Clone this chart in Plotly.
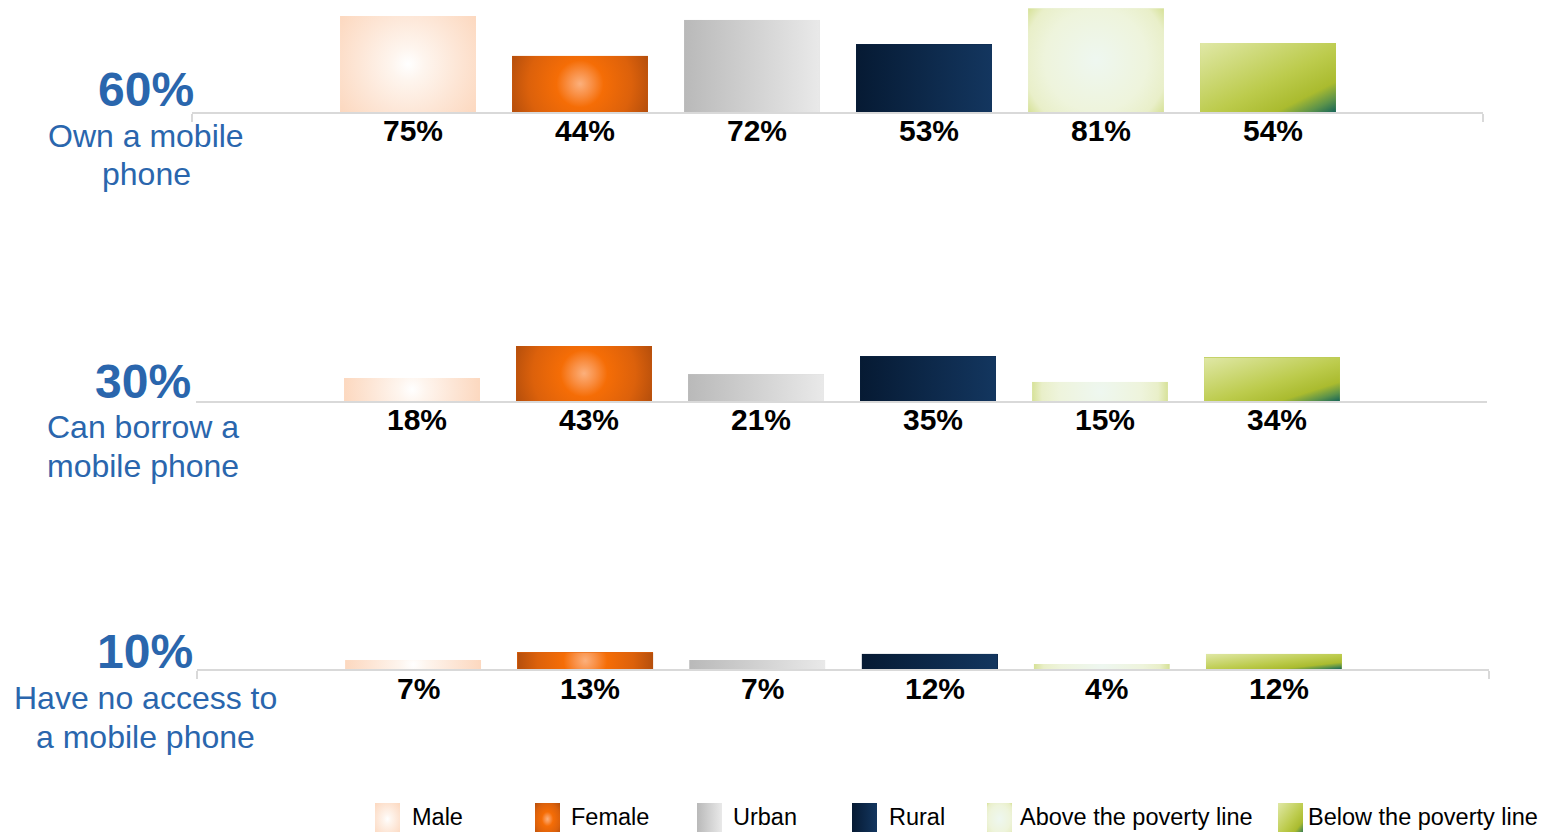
import base64
import math
import plotly.graph_objects as go

# ---------------------------------------------------------------- data
groups = ["Male", "Female", "Urban", "Rural",
          "Above the poverty line", "Below the poverty line"]
own_phone = [75, 44, 72, 53, 81, 54]
borrow_phone = [18, 43, 21, 35, 15, 34]
no_access = [7, 13, 7, 12, 4, 12]
overall = [60, 30, 10]
descriptions = [
    ["Own a mobile", "phone"],
    ["Can borrow a", "mobile phone"],
    ["Have no access to", "a mobile phone"],
]

# ---------------------------------------------------------------- style
W, H = 1543, 832
FONT = "Liberation Sans, Arial, sans-serif"
BLUE = "#2a66ad"
AXIS_GREY = "#d9d9d9"
PX_PER_PCT = 1.28          # vertical scale shared by the three panels
PANEL_PX = 112             # height of each panel's plotting area
BAR_W = 0.79
X_RANGE = [-1.256, 6.25]

solid_colors = ["#fde3d0", "#e3620a", "#d3d3d3", "#0c2647", "#edf3dc", "#bccb55"]
fills = [
    ("radial", [(0, "#ffffff"), (0.2, "#fef5ee"), (0.6, "#fde6d6"), (1, "#fcd8bf")]),
    ("radial", [(0, "#fcb07c"), (0.16, "#f98f44"), (0.32, "#f56d06"),
                (0.7, "#dc610b"), (1, "#b44e0c")]),
    ("horizontal", [(0, "#b9b9b9"), (1, "#e9e9e9")]),
    ("horizontal", [(0, "#061a33"), (1, "#13365f")]),
    ("radial", [(0, "#eef7f0"), (0.6, "#eef4dc"), (0.85, "#e9efc9"), (1, "#d6e196")]),
    ("diagonal", [(0, "#e0e8a7"), (0.55, "#bccb4c"), (0.78, "#aabb2f"),
                  (0.9, "#5c934a"), (1, "#166558")]),
]


def gradient_uri(kind, stops, w=100.0, h=100.0):
    """SVG data URI of a w x h face; radial fills stay circular in pixels."""
    st = "".join(f"<stop offset='{o}' stop-color='{c}'/>" for o, c in stops)
    if kind == "radial":
        r = math.hypot(w, h) / 2
        grad = (f"<radialGradient id='g' gradientUnits='userSpaceOnUse' "
                f"cx='{w / 2:.2f}' cy='{h / 2:.2f}' r='{r:.2f}'>{st}</radialGradient>")
    elif kind == "horizontal":
        grad = f"<linearGradient id='g' x1='0' y1='0' x2='1' y2='0'>{st}</linearGradient>"
    else:
        grad = f"<linearGradient id='g' x1='0' y1='0' x2='1' y2='1'>{st}</linearGradient>"
    svg = (f"<svg xmlns='http://www.w3.org/2000/svg' width='{w:.2f}' height='{h:.2f}' "
           f"viewBox='0 0 {w:.2f} {h:.2f}' preserveAspectRatio='none'>"
           f"<defs>{grad}</defs><rect width='{w:.2f}' height='{h:.2f}' fill='url(#g)'/></svg>")
    return "data:image/svg+xml;base64," + base64.b64encode(svg.encode()).decode()


# panel layout in page pixels: baseline y, axis left/right, end ticks,
# label offset below baseline, left-hand label centres
panels = [
    dict(values=own_phone, base=112, x0=192, x1=1483, ticks=True, lab_dy=18,
         cx=146, big_y=90, line_y=[136, 174]),
    dict(values=borrow_phone, base=401, x0=196, x1=1487, ticks=False, lab_dy=19,
         cx=143, big_y=381, line_y=[427, 466]),
    dict(values=no_access, base=669, x0=197, x1=1489, ticks=True, lab_dy=19,
         cx=145, big_y=651, line_y=[698, 737]),
]

fig = go.Figure()
layout_axes = {}
annotations = []
images = []
positions = list(range(len(groups)))

for p, panel in enumerate(panels):
    sfx = "" if p == 0 else str(p + 1)
    xa, ya = "x" + sfx, "y" + sfx
    vals = panel["values"]
    px_per_x = (panel["x1"] - panel["x0"]) / (X_RANGE[1] - X_RANGE[0])

    fig.add_trace(go.Bar(
        x=positions, y=vals, width=BAR_W, xaxis=xa, yaxis=ya,
        marker=dict(color=solid_colors, line=dict(width=0)),
        customdata=groups, hovertemplate="%{customdata}: %{y}%<extra></extra>",
        showlegend=False,
    ))

    # shaded faces of the bars, sized in data units on the panel's axes
    for i, v in enumerate(vals):
        kind, stops = fills[i]
        src = gradient_uri(kind, stops, BAR_W * px_per_x, v * PX_PER_PCT)
        images.append(dict(
            source=src, xref=xa, yref=ya,
            x=i - BAR_W / 2, y=v, sizex=BAR_W, sizey=v,
            xanchor="left", yanchor="top", sizing="stretch", layer="above",
        ))
        annotations.append(dict(
            x=i, y=0, xref=xa, yref=ya, text=f"{v}%", showarrow=False,
            yanchor="middle", xanchor="center", yshift=-panel["lab_dy"], xshift=5,
            font=dict(family=FONT, size=30, color="#000000", weight="bold"),
        ))

    top = 1 - (panel["base"] - PANEL_PX) / H
    bottom = 1 - panel["base"] / H
    layout_axes["xaxis" + sfx] = dict(
        domain=[panel["x0"] / W, panel["x1"] / W], range=X_RANGE, anchor=ya,
        showgrid=False, zeroline=False, showticklabels=False,
        showline=True, linecolor=AXIS_GREY, linewidth=2,
        ticks="outside" if panel["ticks"] else "", tickmode="array",
        tickvals=X_RANGE if panel["ticks"] else [], ticklen=8,
        tickwidth=2, tickcolor=AXIS_GREY, fixedrange=True,
    )
    layout_axes["yaxis" + sfx] = dict(
        domain=[bottom, top], range=[0, PANEL_PX / PX_PER_PCT], anchor=xa,
        showgrid=False, zeroline=False, showticklabels=False, showline=False,
        fixedrange=True,
    )

    # headline figure and description at the left of each panel
    annotations.append(dict(
        x=panel["cx"] / W, y=1 - panel["big_y"] / H, xref="paper", yref="paper",
        text=f"{overall[p]}%", showarrow=False, xanchor="center", yanchor="middle",
        font=dict(family=FONT, size=48, color=BLUE, weight="bold"),
    ))
    for line, ly in zip(descriptions[p], panel["line_y"]):
        annotations.append(dict(
            x=panel["cx"] / W, y=1 - ly / H, xref="paper", yref="paper",
            text=line, showarrow=False, xanchor="center", yanchor="middle",
            font=dict(family=FONT, size=32, color=BLUE),
        ))

# key along the bottom edge
key_left = [375, 535, 697, 852, 987, 1278]
key_text_left = [410, 569, 731, 887, 1018, 1306]
KEY_TOP, KEY_TEXT_Y, SWATCH = 803, 817, 25
for i, name in enumerate(groups):
    kind, stops = fills[i]
    images.append(dict(
        source=gradient_uri(kind, stops), xref="paper", yref="paper",
        x=key_left[i] / W, y=1 - KEY_TOP / H, sizex=SWATCH / W, sizey=32 / H,
        xanchor="left", yanchor="top", sizing="stretch", layer="above",
    ))
    annotations.append(dict(
        x=key_text_left[i] / W, y=1 - KEY_TEXT_Y / H,
        xref="paper", yref="paper", text=name, showarrow=False,
        xanchor="left", yanchor="middle",
        font=dict(family=FONT, size=23.5, color="#000000"),
    ))

fig.update_layout(
    width=W, height=H, margin=dict(l=0, r=0, t=0, b=0),
    paper_bgcolor="white", plot_bgcolor="rgba(0,0,0,0)",
    showlegend=False, bargap=0, annotations=annotations, images=images,
    **layout_axes,
)

fig.write_html("out.html", config={"displayModeBar": False})
